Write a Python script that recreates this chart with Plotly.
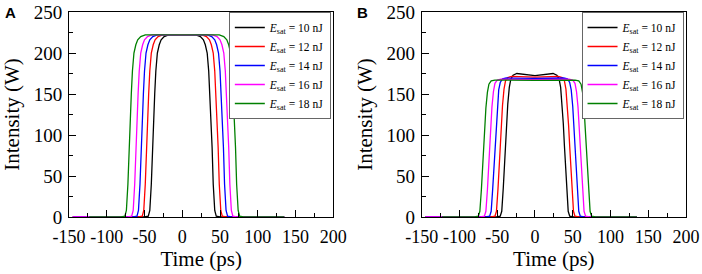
import plotly.graph_objects as go

# ---------------- data ----------------
series_labels = ["10", "12", "14", "16", "18"]
series_colors = ["#000000", "#ff0000", "#0000ff", "#ff00ff", "#008000"]

# Panel A : time (ps) and intensity (W)
A_black_t = [-145, -50, -45, -43, -41, -39.5, -38, -36.5, -35, -33, -30.5, -28, -24, -18, 0, 18, 24, 28, 30.5, 33, 35, 36.5, 38, 39.5, 41, 43, 45, 50, 135]
A_red_t = [-145, -58, -53, -51, -49, -47.5, -46, -44.5, -43, -41, -38.5, -36, -32, -26, 0, 26, 32, 36, 38.5, 41, 43, 44.5, 46, 47.5, 49, 51, 53, 58, 135]
A_blue_t = [-145, -65, -60, -58, -56, -54.5, -53, -51.5, -50, -48, -45.5, -43, -39, -33, 0, 33, 39, 43, 45.5, 48, 50, 51.5, 53, 54.5, 56, 58, 60, 65, 135]
A_magenta_t = [-145, -72, -67, -65, -63, -61.5, -60, -58.5, -57, -55, -52.5, -50, -46, -40, 0, 40, 46, 50, 52.5, 55, 57, 58.5, 60, 61.5, 63, 65, 67, 72, 135]
A_green_t = [-123, -81, -76, -74, -72, -70.5, -69, -67.5, -66, -64, -61.5, -59, -55, -49, 0, 49, 55, 59, 61.5, 64, 66, 67.5, 69, 70.5, 72, 74, 76, 81, 135]

A_black_I = [0, 0, 1, 8, 40, 85, 118, 150, 178, 200, 210, 216, 220, 222, 222, 222, 220, 216, 210, 200, 178, 150, 118, 85, 40, 8, 1, 0, 0]
A_red_I = [0, 0, 1, 8, 40, 85, 118, 150, 178, 200, 210, 216, 220, 222, 222, 222, 220, 216, 210, 200, 178, 150, 118, 85, 40, 8, 1, 0, 0]
A_blue_I = [0, 0, 1, 8, 40, 85, 118, 150, 178, 200, 210, 216, 220, 222, 222.5, 222, 220, 216, 210, 200, 178, 150, 118, 85, 40, 8, 1, 0, 0]
A_magenta_I = [0, 0, 1, 8, 40, 85, 118, 150, 178, 200, 210, 216, 220, 222, 222.5, 222, 220, 216, 210, 200, 178, 150, 118, 85, 40, 8, 1, 0, 0]
A_green_I = [0, 0, 1, 8, 40, 85, 118, 150, 178, 200, 210, 216, 220, 222, 222, 222, 220, 216, 210, 200, 178, 150, 118, 85, 40, 8, 1, 0, 0]

# Panel B : time (ps) and intensity (W)
B_black_t = [-145, -51, -46, -44, -42, -40.5, -39, -37.5, -36, -34, -32, -29, -24, 0, 24, 29, 32, 34, 36, 37.5, 39, 40.5, 42, 44, 46, 51, 135]
B_red_t = [-145, -58, -53, -51, -49, -47.5, -46, -44.5, -43, -41, -39, -36, -31, 0, 31, 36, 39, 41, 43, 44.5, 46, 47.5, 49, 51, 53, 58, 135]
B_blue_t = [-145, -65, -60, -58, -56, -54.5, -53, -51.5, -50, -48, -46, -43, -38, 0, 38, 43, 46, 48, 50, 51.5, 53, 54.5, 56, 58, 60, 65, 135]
B_magenta_t = [-145, -72, -67, -65, -63, -61.5, -60, -58.5, -57, -55, -53, -50, -45, 0, 45, 50, 53, 55, 57, 58.5, 60, 61.5, 63, 65, 67, 72, 135]
B_green_t = [-123, -80, -75, -73, -71, -69.5, -68, -66.5, -65, -63, -61, -58, -53, 0, 53, 58, 61, 63, 65, 66.5, 68, 69.5, 71, 73, 75, 80, 135]

B_black_I = [0, 0, 1, 7, 35, 62, 87, 114, 138, 158, 168, 173, 175, 172.5, 175, 173, 168, 158, 138, 114, 87, 62, 35, 7, 1, 0, 0]
B_red_I = [0, 0, 1, 7, 34, 61, 86, 112, 136, 156, 166, 170, 171.5, 170.5, 171.5, 170, 166, 156, 136, 112, 86, 61, 34, 7, 1, 0, 0]
B_blue_I = [0, 0, 1, 7, 34, 60, 85, 111, 135, 155, 164, 168.5, 169.5, 169, 169.5, 168.5, 164, 155, 135, 111, 85, 60, 34, 7, 1, 0, 0]
B_magenta_I = [0, 0, 1, 7, 33, 60, 84, 110, 134, 153, 163, 167, 168, 167.5, 168, 167, 163, 153, 134, 110, 84, 60, 33, 7, 1, 0, 0]
B_green_I = [0, 0, 1, 7, 33, 59, 83, 109, 133, 152, 162, 166, 167, 166.5, 167, 166, 162, 152, 133, 109, 83, 59, 33, 7, 1, 0, 0]

x_tickvals = [-150, -100, -50, 0, 50, 100, 150, 200]
x_ticktext = ["-150", "-100", "-50", "0", "50", "100", "150", "200"]
y_tickvals = [0, 50, 100, 150, 200, 250]

A_t = [A_black_t, A_red_t, A_blue_t, A_magenta_t, A_green_t]
A_I = [A_black_I, A_red_I, A_blue_I, A_magenta_I, A_green_I]
B_t = [B_black_t, B_red_t, B_blue_t, B_magenta_t, B_green_t]
B_I = [B_black_I, B_red_I, B_blue_I, B_magenta_I, B_green_I]

# ---------------- figure ----------------
SERIF = "Liberation Serif, Times New Roman, serif"
fig = go.Figure()

for ts, Is, xa, ya, lg in [(A_t, A_I, "x", "y", "legend"), (B_t, B_I, "x2", "y2", "legend2")]:
    for t, I, lab, col in zip(ts, Is, series_labels, series_colors):
        fig.add_trace(go.Scatter(
            x=t, y=I, mode="lines", xaxis=xa, yaxis=ya, legend=lg,
            line=dict(color=col, width=1.3),
            name="<i>E</i><sub>sat</sub> = " + lab + " nJ",
        ))

L, R, T, B = 69, 16, 12, 57
W, H = 702, 274
pw = W - L - R
dA = [0, 264.3 / pw]
dB = [(421.7 - L) / pw, 1]

def xax(domain, anchor):
    return dict(
        domain=domain, anchor=anchor, range=[-150, 200], automargin=False,
        tickvals=x_tickvals, ticktext=x_ticktext, tickangle=0, ticklabelstandoff=3,
        ticks="inside", ticklen=7, tickwidth=1, tickcolor="black",
        minor=dict(dtick=25, tick0=0, ticks="inside", ticklen=4, tickcolor="black", tickwidth=1),
        showline=True, linecolor="black", linewidth=1, mirror=True,
        showgrid=False, zeroline=False,
        tickfont=dict(family=SERIF, size=18, color="black"),
        title=dict(text="Time (ps)", font=dict(family=SERIF, size=21, color="black"), standoff=2),
    )

def yax(domain, anchor):
    return dict(
        domain=domain, anchor=anchor, range=[0, 250], automargin=False,
        tickvals=y_tickvals, ticklabelstandoff=2,
        ticks="inside", ticklen=7, tickwidth=1, tickcolor="black",
        minor=dict(dtick=25, tick0=0, ticks="inside", ticklen=4, tickcolor="black", tickwidth=1),
        showline=True, linecolor="black", linewidth=1, mirror=True,
        showgrid=False, zeroline=False,
        tickfont=dict(family=SERIF, size=19, color="black"),
        title=dict(text="Intensity (W)", font=dict(family=SERIF, size=21, color="black"), standoff=8),
    )

def leg(xr):
    return dict(
        x=xr, xanchor="right", y=1, yanchor="top",
        bgcolor="white", bordercolor="#666666", borderwidth=1,
        font=dict(family=SERIF, size=11.5, color="black"),
        itemwidth=30, tracegroupgap=0,
    )

fig.update_layout(
    width=W, height=H,
    margin=dict(l=L, r=R, t=T, b=B, autoexpand=False),
    paper_bgcolor="white", plot_bgcolor="white",
    xaxis=xax(dA, "y"), yaxis=yax([0, 1], "x"),
    xaxis2=xax(dB, "y2"), yaxis2=yax([0, 1], "x2"),
    legend=leg(dA[1] - 0.004), legend2=leg(1 - 0.004),
    showlegend=True,
    annotations=[
        dict(text="<b>A</b>", xref="paper", yref="paper", x=(10 - L) / pw, y=1.0,
             xanchor="center", yanchor="middle", showarrow=False,
             font=dict(family="Liberation Sans, Arial, sans-serif", size=15, color="black")),
        dict(text="<b>B</b>", xref="paper", yref="paper", x=(362 - L) / pw, y=1.0,
             xanchor="center", yanchor="middle", showarrow=False,
             font=dict(family="Liberation Sans, Arial, sans-serif", size=15, color="black")),
    ],
)

fig.write_html("out.html", config={"displayModeBar": False},
               post_script="document.body.style.margin='0px';document.body.style.padding='0px';")
